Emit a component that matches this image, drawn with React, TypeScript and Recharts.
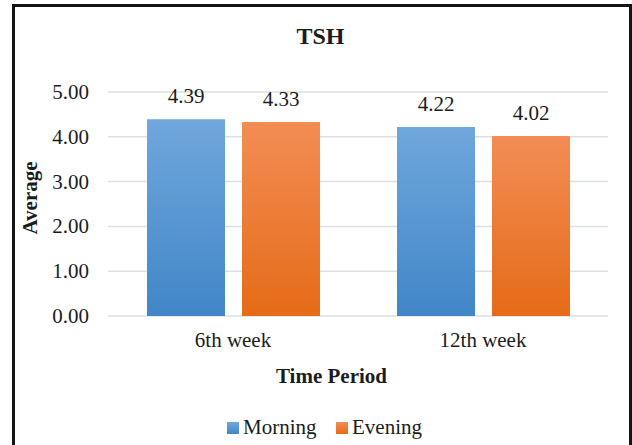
import React from 'react';
import { BarChart, Bar, XAxis, YAxis, CartesianGrid, LabelList } from 'recharts';

const periods = ['6th week', '12th week'];
const morning = [4.39, 4.22];
const evening = [4.33, 4.02];
const yTicks = [0, 1, 2, 3, 4, 5];
const seriesNames = ['Morning', 'Evening'];

const data = periods.map((p, i) => ({ period: p, morning: morning[i], evening: evening[i] }));

const FONT = 'Liberation Serif';
const TEXT = '#1c1c1c';
const GRID = '#dce0e5';

const Gradients = () => (
  <defs>
    <linearGradient id="gBlue" x1="0" y1="0" x2="0" y2="1">
      <stop offset="0%" stopColor="#70a7dc" />
      <stop offset="100%" stopColor="#4186c8" />
    </linearGradient>
    <linearGradient id="gOrange" x1="0" y1="0" x2="0" y2="1">
      <stop offset="0%" stopColor="#f38d55" />
      <stop offset="100%" stopColor="#e56b17" />
    </linearGradient>
  </defs>
);

const XTick = ({ x, y, payload }: any) => (
  <text x={x} y={y + 15} textAnchor="middle" style={{ fontFamily: FONT, fontSize: 21, fill: TEXT }}>
    {payload.value}
  </text>
);

const YTick = ({ x, y, payload }: any) => (
  <text x={x} y={y + 7} textAnchor="end" style={{ fontFamily: FONT, fontSize: 21, fill: TEXT }}>
    {Number(payload.value).toFixed(2)}
  </text>
);

const BarValue = ({ x, y, width, value }: any) => (
  <text x={x + width / 2} y={y - 16} textAnchor="middle" style={{ fontFamily: FONT, fontSize: 21, fill: TEXT }}>
    {Number(value).toFixed(2)}
  </text>
);

export default function App() {
  return (
    <div style={{ position: 'absolute', left: 0, top: 0, width: 632, height: 445, background: '#fff', overflow: 'hidden' }}>
      <div
        style={{
          position: 'absolute',
          left: 12,
          top: 4,
          width: 620,
          height: 470,
          border: '3px solid #151515',
          boxSizing: 'border-box',
        }}
      />
      <div style={{ position: 'absolute', left: 0, top: 0 }}>
        <BarChart
          width={632}
          height={445}
          data={data}
          margin={{ top: 92, right: 24, bottom: 99, left: 48 }}
          barSize={78}
          barGap={17}
        >
          <Gradients />
          <CartesianGrid vertical={false} stroke={GRID} strokeWidth={1.5} />
          <XAxis
            dataKey="period"
            height={30}
            axisLine={false}
            tickLine={false}
            tickSize={6}
            tickMargin={10}
            tick={<XTick />}
            interval={0}
          />
          <YAxis
            width={60}
            domain={[0, 5]}
            ticks={yTicks}
            axisLine={false}
            tickLine={false}
            tickSize={6}
            tickMargin={13}
            tick={<YTick />}
          />
          <Bar dataKey="morning" name={seriesNames[0]} fill="url(#gBlue)" isAnimationActive={false}>
            <LabelList dataKey="morning" content={<BarValue />} />
          </Bar>
          <Bar dataKey="evening" name={seriesNames[1]} fill="url(#gOrange)" isAnimationActive={false}>
            <LabelList dataKey="evening" content={<BarValue />} />
          </Bar>
        </BarChart>
      </div>
      <svg width={632} height={445} style={{ position: 'absolute', left: 0, top: 0, pointerEvents: 'none' }}>
        <Gradients />
        <text x={320.5} y={44} textAnchor="middle" fontFamily={FONT} fontSize={24} fontWeight="bold" fill={TEXT}>
          TSH
        </text>
        <text
          transform="translate(37,198) rotate(-90)"
          textAnchor="middle"
          fontFamily={FONT}
          fontSize={21}
          fontWeight="bold"
          fill={TEXT}
        >
          Average
        </text>
        <text x={331.5} y={383} textAnchor="middle" fontFamily={FONT} fontSize={21} fontWeight="bold" fill={TEXT}>
          Time Period
        </text>
        <rect x={227} y={422} width={12} height={12} fill="url(#gBlue)" />
        <text x={243} y={434} fontFamily={FONT} fontSize={21} fill={TEXT}>
          {seriesNames[0]}
        </text>
        <rect x={336} y={422} width={12} height={12} fill="url(#gOrange)" />
        <text x={352} y={434} fontFamily={FONT} fontSize={21} fill={TEXT}>
          {seriesNames[1]}
        </text>
      </svg>
    </div>
  );
}
